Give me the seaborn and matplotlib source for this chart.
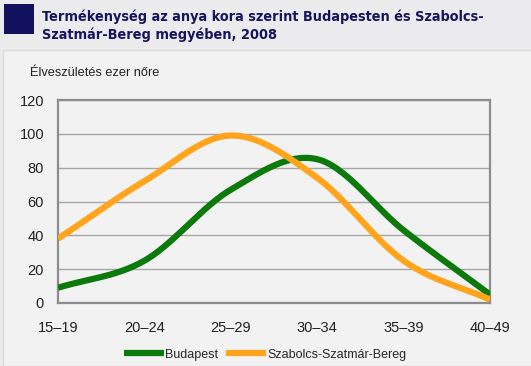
import numpy as np
import pandas as pd
import matplotlib.pyplot as plt
import seaborn as sns
from matplotlib.patches import Rectangle

age_groups = ["15–19", "20–24", "25–29", "30–34", "35–39", "40–49"]
budapest = [9, 25, 67, 85, 43, 5]
szabolcs = [38, 72, 99, 74, 25, 2]
y_ticks = [0, 20, 40, 60, 80, 100, 120]


def smooth(xs, ys, n=30):
    # Catmull-Rom curve through the points, like Excel's smoothed line
    xs = np.asarray(xs, float)
    ys = np.asarray(ys, float)
    px = np.concatenate([[2 * xs[0] - xs[1]], xs, [2 * xs[-1] - xs[-2]]])
    py = np.concatenate([[2 * ys[0] - ys[1]], ys, [2 * ys[-1] - ys[-2]]])
    out_x, out_y = [], []
    for i in range(1, len(px) - 2):
        t = np.linspace(0, 1, n, endpoint=False)
        for p, out in ((px, out_x), (py, out_y)):
            p0, p1, p2, p3 = p[i - 1], p[i], p[i + 1], p[i + 2]
            out.extend(0.5 * (2 * p1 + (-p0 + p2) * t
                              + (2 * p0 - 5 * p1 + 4 * p2 - p3) * t ** 2
                              + (-p0 + 3 * p1 - 3 * p2 + p3) * t ** 3))
    out_x.append(xs[-1])
    out_y.append(ys[-1])
    return np.array(out_x), np.array(out_y)


sns.set_theme(style="white")
plt.rcParams['font.family'] = ['Liberation Sans', 'DejaVu Sans']

fig = plt.figure(figsize=(5.31, 3.66), dpi=100)
fig.patch.set_facecolor("#ebeaec")
# lighter inner panel
panel = Rectangle((3 / 531, 0), 1, 1 - 50 / 366, transform=fig.transFigure,
                  facecolor="#f3f2f3", edgecolor="#dcdcdc", lw=1, zorder=-5)
fig.add_artist(panel)
# navy square beside the title
fig.add_artist(Rectangle((4 / 531, 1 - 34 / 366), 30 / 531, 30 / 366, transform=fig.transFigure,
                         facecolor="#12115e", edgecolor="none", zorder=-4))
fig.text(42 / 531, 1 - 9 / 366,
         "Termékenység az anya kora szerint Budapesten és Szabolcs-\nSzatmár-Bereg megyében, 2008",
         ha="left", va="top", fontsize=10.35, fontweight="bold", color="#15145e",
         family="DejaVu Sans", fontstretch="condensed", linespacing=1.35)
fig.text(30 / 531, 1 - 73 / 366, "Élveszületés ezer nőre", ha="left", va="center",
         fontsize=9.2, color="#222222")

ax = fig.add_axes([58 / 531, 1 - 303 / 366, 432 / 531, 203 / 366])
ax.set_facecolor("none")

x = np.arange(len(age_groups))
for vals, name, color in ((budapest, "Budapest", "#0b7a0b"),
                          (szabolcs, "Szabolcs-Szatmár-Bereg", "#ffa41c")):
    sx, sy = smooth(x, vals)
    df = pd.DataFrame({"x": sx, "y": sy})
    sns.lineplot(data=df, x="x", y="y", ax=ax, sort=False, color=color, lw=4.5,
                 label=name, solid_capstyle="butt", zorder=3)

ax.set_xlim(0, len(age_groups) - 1)
ax.set_ylim(0, 120)
ax.set_yticks(y_ticks)
ax.set_xticks(x)
ax.set_xticklabels(age_groups)
ax.set_xlabel("")
ax.set_ylabel("")
ax.grid(axis="y", color="#a6a6a6", lw=1)
ax.set_axisbelow(True)
for s in ax.spines.values():
    s.set_color("#8c8c8c")
    s.set_linewidth(1.6)
ax.tick_params(axis="both", labelsize=10.5, colors="#222222", length=0)
ax.tick_params(axis="x", pad=13)
ax.tick_params(axis="y", pad=10)

ax.legend(loc="upper center", bbox_to_anchor=(0.48, -0.2), ncol=2, frameon=False,
          fontsize=9, handlelength=3.2, handletextpad=0.1, columnspacing=0.6,
          borderaxespad=0)

fig.savefig("out.png", dpi=100, facecolor=fig.get_facecolor())
